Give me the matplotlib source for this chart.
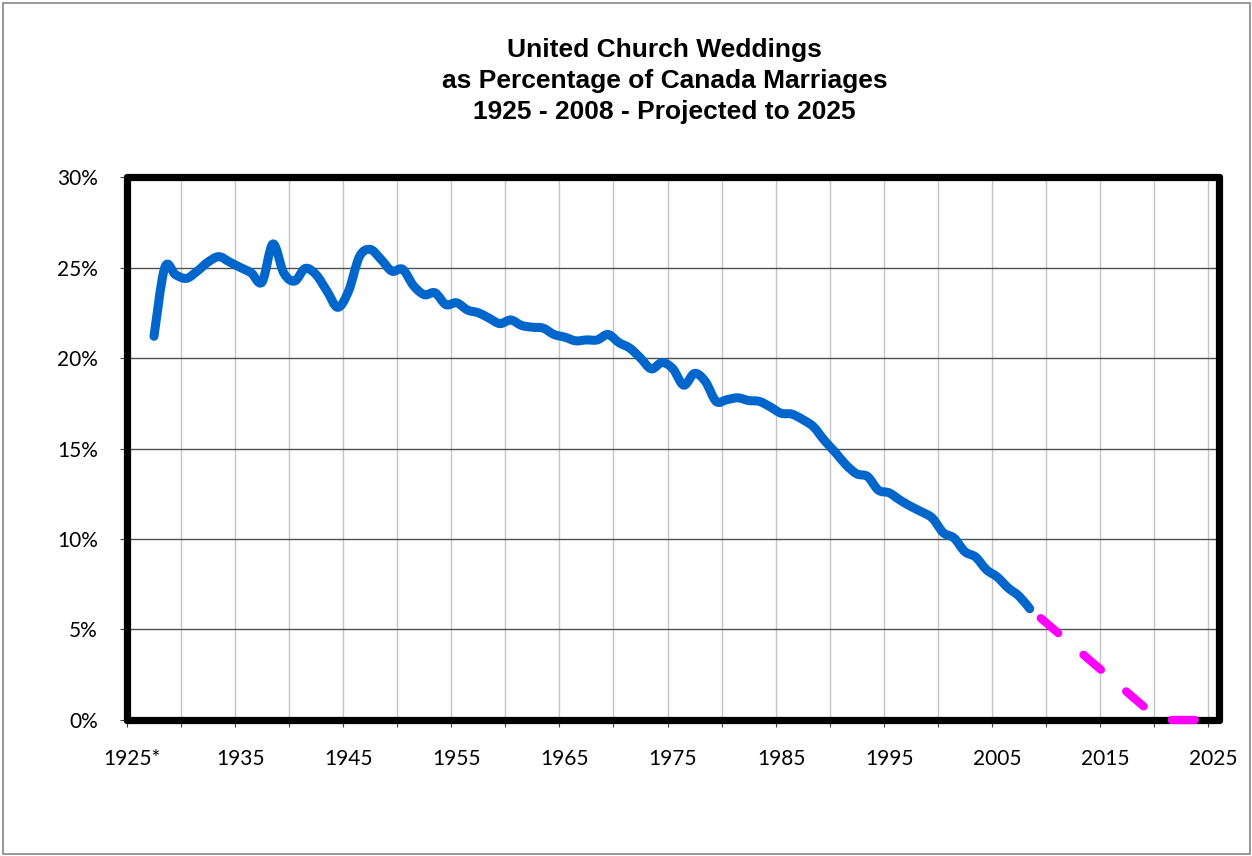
import matplotlib
matplotlib.use("Agg")
import matplotlib.pyplot as plt
from matplotlib.patches import Rectangle, PathPatch
from matplotlib.path import Path
from matplotlib.ticker import FuncFormatter

plt.rcParams.update({
    "font.family": "Lato",
    "xtick.labelsize": 15,
    "ytick.labelsize": 15,
    "lines.scale_dashes": False,
})

# United Church weddings as % of all Canadian marriages
years = list(range(1927, 2009))
pct = [
    21.2, 25.0, 24.6, 24.4, 24.8, 25.3, 25.6, 25.3, 25.0, 24.7,
    24.2, 26.3, 24.7, 24.25, 24.95, 24.6, 23.7, 22.8, 23.7, 25.6,
    26.0, 25.45, 24.8, 24.9, 24.0, 23.5, 23.6, 22.95, 23.05, 22.65,
    22.5, 22.2, 21.9, 22.1, 21.8, 21.7, 21.65, 21.3, 21.15, 20.95,
    21.0, 21.0, 21.3, 20.85, 20.55, 20.0, 19.4, 19.75, 19.4, 18.5,
    19.15, 18.7, 17.6, 17.7, 17.8, 17.65, 17.6, 17.3, 16.95, 16.9,
    16.6, 16.2, 15.45, 14.8, 14.1, 13.6, 13.45, 12.7, 12.55, 12.15,
    11.8, 11.5, 11.15, 10.35, 10.05, 9.3, 9.0, 8.3, 7.9, 7.3,
    6.85, 6.15,
]

# linear projection
proj_years = [2008, 2020, 2025]
proj_pct = [6.15, 0.0, 0.0]

label_years = list(range(1925, 2026, 10))
label_text = ["1925*"] + [str(y) for y in label_years[1:]]


def smooth_path(xs, ys):
    # Excel-style smoothed line: bezier segments through every point
    pts = list(zip(xs, ys))
    verts = [pts[0]]
    codes = [Path.MOVETO]
    n = len(pts)
    for i in range(n - 1):
        p0 = pts[max(i - 1, 0)]
        p1 = pts[i]
        p2 = pts[i + 1]
        p3 = pts[min(i + 2, n - 1)]
        c1 = (p1[0] + (p2[0] - p0[0]) / 6, p1[1] + (p2[1] - p0[1]) / 6)
        c2 = (p2[0] - (p3[0] - p1[0]) / 6, p2[1] - (p3[1] - p1[1]) / 6)
        verts += [c1, c2, p2]
        codes += [Path.CURVE4] * 3
    return Path(verts, codes)


fig = plt.figure(figsize=(12.52, 8.56), dpi=100)
ax = fig.add_axes([0.1014, 0.1589, 0.8722, 0.6343])

ax.add_patch(PathPatch(smooth_path(years, pct), fill=False,
                       edgecolor="#0066CC", lw=6.5, capstyle="round",
                       joinstyle="round", zorder=4))
ax.plot(proj_years, proj_pct, color="#FF00FF", lw=6.0,
        linestyle=(30, (16.5, 24)), dash_capstyle="round",
        clip_on=False, zorder=5)

ax.set_xlim(1924.5, 2025.5)
ax.set_ylim(0, 30)

# boundary ticks every 5 years, labels centred on the category
ax.set_xticks([1924.5 + 5 * i for i in range(21)])
ax.set_xticklabels([])
ax.set_xticks(label_years, minor=True)
ax.set_xticklabels(label_text, minor=True)
ax.tick_params(axis="x", which="minor", length=0, pad=21)
ax.tick_params(axis="x", which="major", length=5, width=0.8, color="#404040")

ax.set_yticks(range(0, 31, 5))
ax.yaxis.set_major_formatter(FuncFormatter(lambda v, p: f"{v:.0f}%"))
ax.tick_params(axis="y", length=5, width=0.8, color="#404040", pad=16)

ax.grid(axis="x", which="major", color="#c4c4c4", lw=1.0)
ax.grid(axis="y", color="#505050", lw=1.0)
ax.set_axisbelow(True)

for s in ax.spines.values():
    s.set_linewidth(5.2)
    s.set_color("black")
    s.set_capstyle("round")

fig.text(0.531, 0.905,
         "United Church Weddings\nas Percentage of Canada Marriages\n1925 - 2008 - Projected to 2025",
         ha="center", va="center", fontsize=19, fontweight="bold",
         family="Liberation Sans", linespacing=1.36)

fig.patches.append(Rectangle((0.002, 0.0023), 0.9968, 0.9947,
                             transform=fig.transFigure, fill=False,
                             edgecolor="#868686", lw=1.2))

fig.savefig("out.png", dpi=100)
